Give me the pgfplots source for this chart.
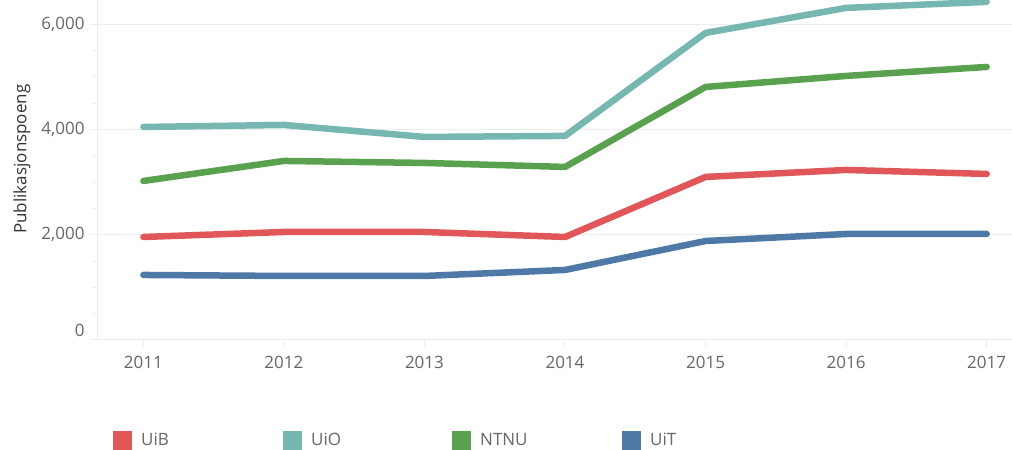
\documentclass[border=0pt]{standalone}
\usepackage{fontspec}
\setmainfont{Open Sans}
\usepackage{pgfplots}
\pgfplotsset{compat=1.18}
\definecolor{cUiB}{HTML}{E15759}
\definecolor{cUiO}{HTML}{76B7B2}
\definecolor{cNTNU}{HTML}{59A14F}
\definecolor{cUiT}{HTML}{4E79A7}
\definecolor{tickgray}{HTML}{666666}
\definecolor{gridgray}{HTML}{EDEDED}
\begin{document}
\begin{tikzpicture}
\useasboundingbox (0,0) rectangle (1012bp,450bp);
\clip (0,0) rectangle (1012bp,450bp);
\begin{axis}[
  at={(97bp,110bp)}, anchor=south west,
  scale only axis, width=915bp, height=340bp,
  xmin=2010.67, xmax=2017.18, ymin=0, ymax=6456,
  axis x line*=bottom, axis y line*=left,
  axis line style={gridgray, line width=1bp, -},
  xtick={2011,...,2017},
  ytick={0,2000,4000,6000},
  yticklabels={{\raisebox{19bp}{0}},{2,000},{4,000},{6,000}},
  minor y tick num=3, minor x tick num=5,
  tick align=outside, major tick length=7bp, minor tick length=4bp,
  tick style={gridgray, line width=1bp},
  ymajorgrids, major grid style={gridgray, line width=1bp},
  /pgf/number format/assume math mode=true,
  xticklabel={\pgfmathprintnumber[1000 sep={}]{\tick}},
  ticklabel style={font=\fontsize{17bp}{19bp}\selectfont, text=tickgray},
  xticklabel style={yshift=-6bp},
  yticklabel style={xshift=-2bp},
  ylabel={Publikasjonspoeng},
  ylabel style={at={(axis description cs:-0.082,0.532)}, anchor=center,
    font=\fontsize{17bp}{19bp}\selectfont, text=black!80},
  every axis plot/.append style={line width=6.5bp, line cap=round, line join=round},
]
\addplot[cUiB] coordinates {(2011,1956) (2012,2051) (2013,2051) (2014,1956) (2015,3096) (2016,3229) (2017,3153)};
\addplot[cUiO] coordinates {(2011,4045) (2012,4083) (2013,3856) (2014,3875) (2015,5831) (2016,6306) (2017,6420)};
\addplot[cNTNU] coordinates {(2011,3020) (2012,3400) (2013,3362) (2014,3286) (2015,4805) (2016,5014) (2017,5185)};
\addplot[cUiT] coordinates {(2011,1235) (2012,1216) (2013,1216) (2014,1330) (2015,1880) (2016,2013) (2017,2013)};
\end{axis}
% legend
\foreach \x/\c/\t in {113/cUiB/UiB, 283/cUiO/UiO, 452/cNTNU/NTNU, 622/cUiT/UiT}{
  \fill[\c] (\x bp,0bp) rectangle ({(\x+19)*1bp},19bp);
  \node[anchor=base west, inner sep=0pt, text=tickgray, font=\fontsize{17bp}{19bp}\selectfont]
    at ({(\x+28)*1bp},5bp) {\t};
}
\end{tikzpicture}
\end{document}
